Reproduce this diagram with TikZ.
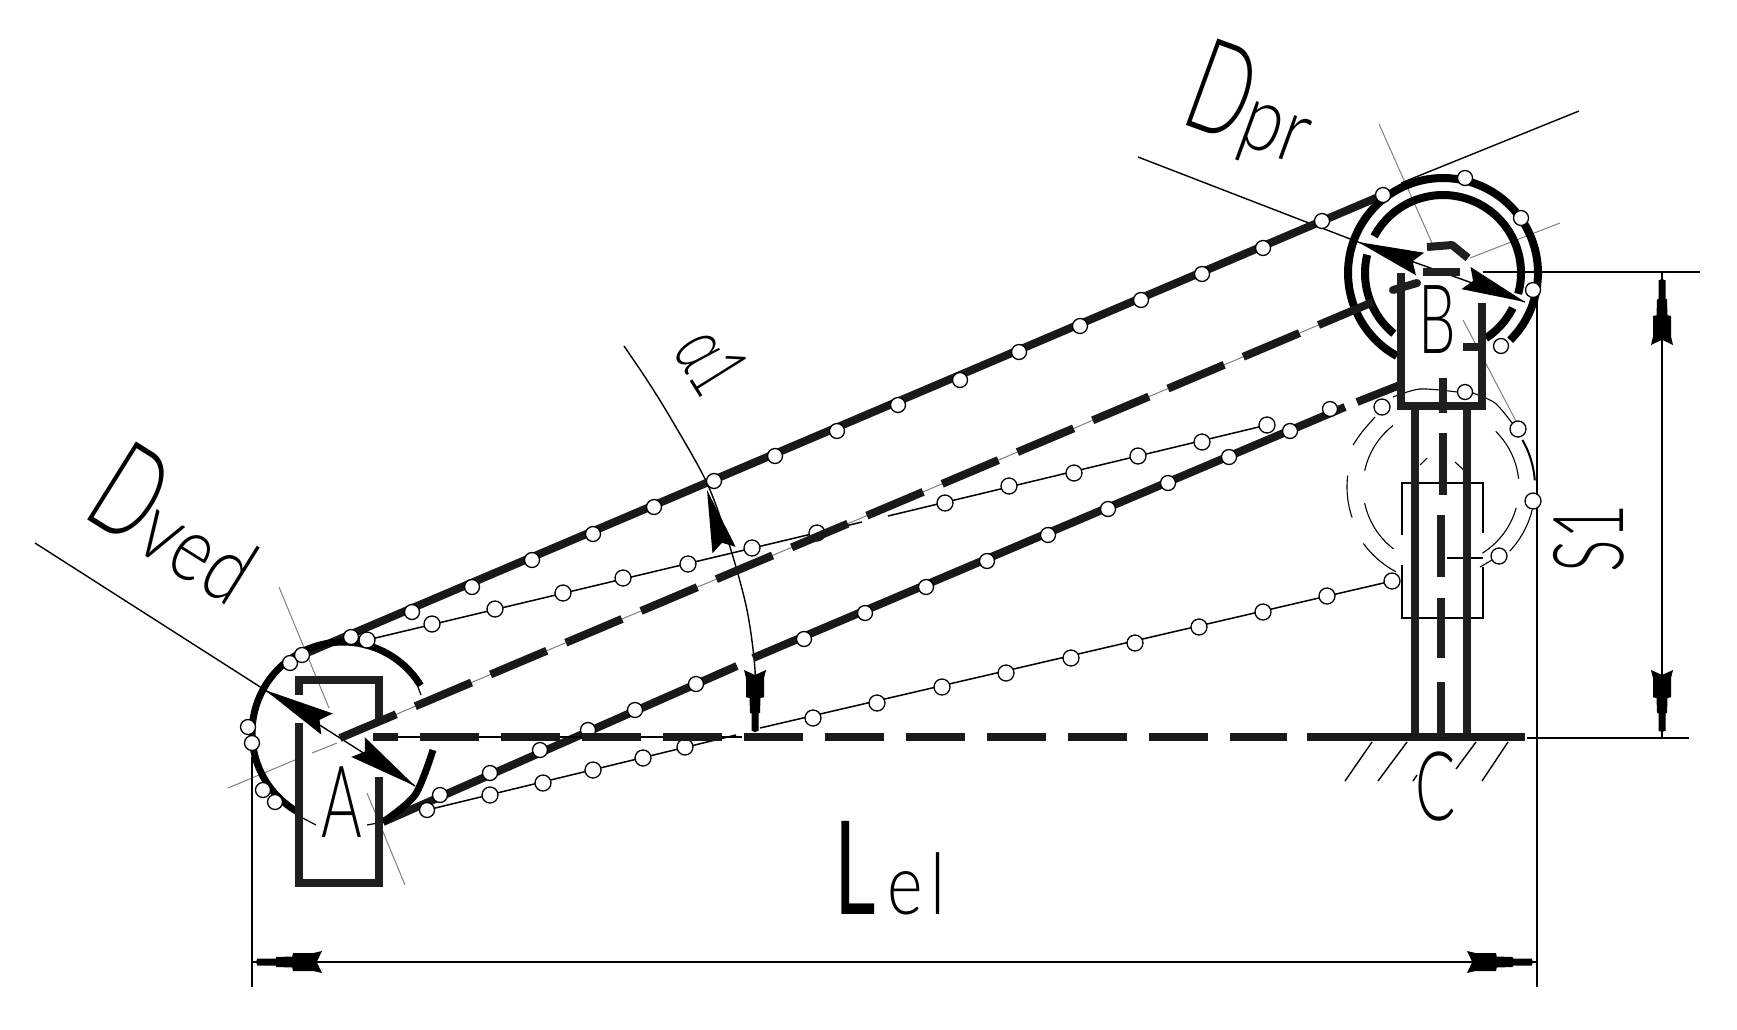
\documentclass[tikz,border=0pt]{standalone}
\usepackage{fontspec}
\setmainfont{Liberation Sans}
\newfontfamily\cad[FakeStretch=0.62]{Lato Light}
\newfontfamily\cadw[FakeStretch=0.8]{Lato Light}
\newfontfamily\cadb[FakeStretch=0.62]{Lato}
\usetikzlibrary{calc}
\tikzset{
  thick line/.style={line width=8pt,black!88},
  strand/.style={line width=8pt,black!90},
  thin chain/.style={line width=1.5pt,black},
  dim line/.style={line width=1.4pt,black},
  axis line/.style={line width=1pt,black!50},
  linkc/.style={line width=1.3pt,draw=black,fill=white},
  label/.style={inner sep=0pt,outer sep=0pt,black},
}
\newcommand\darr[2]{\fill[black] (#1)
  -- ($(#1)!0.02!(#2)!3.5pt!90:(#2)$)
  -- ($(#1)!0.30!(#2)!3.5pt!90:(#2)$)
  -- ($(#1)!0.31!(#2)!5pt!90:(#2)$)
  -- ($(#1)!0.55!(#2)!5.5pt!90:(#2)$)
  -- ($(#1)!0.56!(#2)!9pt!90:(#2)$)
  -- ($(#1)!0.87!(#2)!9pt!90:(#2)$)
  -- ($(#2)!11pt!-90:(#1)$)
  -- ($(#1)!0.92!(#2)$)
  -- ($(#2)!-11pt!-90:(#1)$)
  -- ($(#1)!0.87!(#2)!-9pt!90:(#2)$)
  -- ($(#1)!0.56!(#2)!-9pt!90:(#2)$)
  -- ($(#1)!0.55!(#2)!-5.5pt!90:(#2)$)
  -- ($(#1)!0.31!(#2)!-5pt!90:(#2)$)
  -- ($(#1)!0.30!(#2)!-3.5pt!90:(#2)$)
  -- ($(#1)!0.02!(#2)!-3.5pt!90:(#2)$) -- cycle;}
\newcommand\tarr[2]{\fill[black] (#1)
  -- ($(#2)!12pt!-90:(#1)$)
  -- ($(#1)!0.88!(#2)$)
  -- ($(#2)!-12pt!-90:(#1)$) -- cycle;}
\newcommand\carc[6][]{\draw[#1] plot[domain=#5:#6,samples=40,smooth] ({#2+#4*cos(\x)},{#3+#4*sin(\x)});}
\begin{document}
\begin{tikzpicture}[x=1pt,y=-1pt]
\useasboundingbox (0,0) rectangle (1737,1029);
\fill[white] (0,0) rectangle (1737,1029);

% centre lines
\coordinate (Aa) at (340,738);
\draw[axis line] (279,587) -- (329,708);
\draw[axis line] (367,793) -- (405,885);
\draw[axis line] (228,788) -- (295,760) (312,753) -- (337,743);
\draw[axis line] (1379,124) -- (1432,243);
\draw[axis line] (1463,320) -- (1517,423);
\draw[axis line] (1560,223) -- (1470,258);
\draw[axis line] (Aa) -- (1373,302);

% dimension and extension lines
\draw[dim line] (252,757) -- (252,987);
\draw[dim line] (1537,272) -- (1537,987);
\draw[dim line] (252,962) -- (1537,962);
\draw[dim line] (1483,272) -- (1700,272);
\draw[dim line] (1527,738) -- (1689,738);
\draw[dim line] (1662,272) -- (1662,738);
\coordinate (DvL) at (35,543);
\coordinate (DvA) at (265,690);
\coordinate (DvB) at (415,786);
\draw[dim line] (DvL) -- (DvA) -- (DvB);
\coordinate (DpL) at (1138,157);
\coordinate (DpA) at (1358,242);
\coordinate (DpB) at (1525,302);
\draw[dim line] (DpL) -- (DpA) -- (DpB);
\draw[dim line] (1579,111) -- (1401,183);
\draw[dim line] plot[smooth] coordinates {(624,346) (647,380) (670,417) (707,483) (730,547) (747,610) (755,670) (755,732)};

% lower position of the driven end
\draw[line width=1.3pt] (1402,535) -- (1402,483) -- (1483,483) -- (1483,533);
\draw[line width=1.3pt] (1402,565) -- (1402,618) -- (1483,618) -- (1483,567);
\draw[line width=1.3pt] (1447,558) -- (1483,558);
\foreach \a/\b/\r in {161/187/94,118/144/96,127.5/168/78,192/232/78,-45.5/-6/78,15.5/58/78,14/43/94}{
  \carc[line width=1.1pt]{1441}{487}{\r}{\a}{\b}}
\carc[line width=2pt]{1441}{487}{94}{-30}{-4}
\draw[line width=1.1pt] plot[smooth] coordinates {(1375,417) (1362,432) (1353,445)};
\draw[line width=1.1pt] plot[smooth] coordinates {(1393,397) (1420,389) (1457,392)};
\draw[line width=1.1pt] plot[smooth] coordinates {(1473,393) (1495,403) (1512,423)};
\draw[line width=1.1pt] (1420,465) -- (1427,458) (1455,462) -- (1467,473);
\draw[line width=1.1pt] (1480,567) -- (1492,560);

% thin chain, second position
\draw[thin chain] (367,640) -- (862,522) (888,516) -- (1267,425);
\draw[thin chain] (427,810) -- (736,735) (760,728) -- (1392,581);

% strands
\draw[strand] (302,655) -- (1383,195);
\draw[strand] (383,822) -- (737,666) (753,658) -- (1345,407) (1357,402) -- (1400,385);

% sprocket A
\carc[line width=7pt]{343}{733}{91}{119.5}{328.5}
\draw[line width=1.2pt] (297,815) -- (316,825);
\draw[line width=7pt] plot[smooth] coordinates {(383,822) (415,795) (433,750)};
\draw[line width=1.2pt] (367,825) -- (383,822);
\draw[line width=1.2pt] (418,687) -- (421,695);

% sprocket B
\carc[line width=8pt]{1443}{273}{95}{119}{405}
\carc[line width=8pt]{1443}{273}{78}{208}{375.5}
\carc[line width=8pt]{1443}{273}{78}{129}{193.5}
\carc[line width=8pt]{1443}{273}{78}{26.6}{56.7}

% box A
\draw[thick line] (299,695) -- (299,680) -- (379,680) -- (379,723);
\draw[thick line] (299,723) -- (299,883) -- (379,883) -- (379,777);

% box B and column
\draw[thick line] (1401,273) -- (1401,406) -- (1482,406) -- (1482,303);
\draw[thick line,line cap=round] (1393,290) -- (1417,283);
\draw[thick line] (1463,347) -- (1483,347);
\draw[thick line,line join=round] (1427,247) -- (1452,245) -- (1468,258);
\draw[thick line] (1423,272) -- (1460,272);
\draw[thick line] (1415,407) -- (1415,737);
\draw[thick line] (1467,407) -- (1467,737);

% links
\foreach \x/\y in {290/663,302/655,351/637,412/612,472/587,532/560,593/534,654/507,714/481,775/456,837/431,898/405,960/380,1019/352,1080/326,1141/300,1202/274,1263/248,1322/221,1383/195,
 1465/178,1521/218,1533/290,1501/346,1465/392,
 248/727,252/743,263/790,275/802,
 427/810,440/795,490/773,540/750,588/730,635/710,696/684,804/639,865/613,926/587,987/561,1048/535,1108/509,1168/483,1229/457,1290/431,1330/409}{
  \filldraw[linkc] (\x,\y) circle[radius=7.5];}
\foreach \x/\y in {367/640,432/624,495/609,563/593,623/578,688/564,752/548,817/533,945/503,1009/486,1074/473,1138/456,1202/442,1267/425,
 490/795,543/783,593/770,643/758,685/747,813/718,877/703,942/687,1006/673,1071/658,1135/643,1199/627,1263/612,1327/596,1392/581,
 1382/407,1518/429,1533/501,1499/556}{
  \filldraw[linkc] (\x,\y) circle[radius=8];}

% centre dashes A-B
\draw[line width=8pt,black!90,dash pattern=on 61pt off 20.7pt] (Aa) -- (1373,302);

% base line
\draw[dim line] (373,737) -- (742,737);
\draw[line width=8pt,black!90] (373,737) -- (398,737);
\draw[line width=8pt,black!90,dash pattern=on 59pt off 22pt] (420,737) -- (1287,737);
\draw[line width=8pt,black!90] (1307,737) -- (1525,737);

% centre dashes of the column
\draw[thick line] (1443,378) -- (1443,413) (1443,433) -- (1443,495) (1441,515) -- (1441,577) (1441,598) -- (1441,658) (1441,682) -- (1441,737);

% hatching
\draw[line width=1.4pt] (1372,742) -- (1345,781) (1407,742) -- (1378,781) (1417,775) -- (1413,781) (1476,742) -- (1456,769) (1508,742) -- (1482,781);

% arrows
\tarr{DvA}{327,724}
\tarr{DvB}{358,747}
\tarr{DpA}{1420,264}
\tarr{DpB}{1466,278}
\tarr{707,490}{724,550}
\darr{755,732}{755,670}
\darr{256,962}{322,962}
\darr{1533,962}{1467,962}
\darr{1662,279}{1662,345}
\darr{1662,732}{1662,670}

% labels
\node[label,anchor=base] (la) at (342,837) {\cad\fontsize{100}{100}\selectfont A};
\node[label,anchor=base] (lb) at (1437,353) {\cad\fontsize{96}{96}\selectfont B};
\node[label,anchor=base] (lc) at (1436,820) {\cad\fontsize{96}{96}\selectfont C};
\node[label,anchor=base west] (ll) at (834,914) {\cadb\fontsize{130}{130}\selectfont L\kern12pt\cadw\fontsize{85}{85}\selectfont e\kern8pt l};
\node[label,anchor=base west,rotate=90] (ls) at (1623,572) {\cad\fontsize{98}{98}\selectfont S1};
\node[label,anchor=base west,rotate=-58] (lalpha) at (671,350) {\cad\fontsize{84}{84}\selectfont α1};
\node[label,anchor=base west,rotate=-32] (ldv) at (80,515) {\cad\fontsize{130}{130}\selectfont D\cadw\fontsize{92}{92}\selectfont ved};
\node[label,anchor=base west,rotate=-20] (ldp) at (1178,122) {\cad\fontsize{130}{130}\selectfont D\cadw\fontsize{92}{92}\selectfont pr};
\end{tikzpicture}
\end{document}
